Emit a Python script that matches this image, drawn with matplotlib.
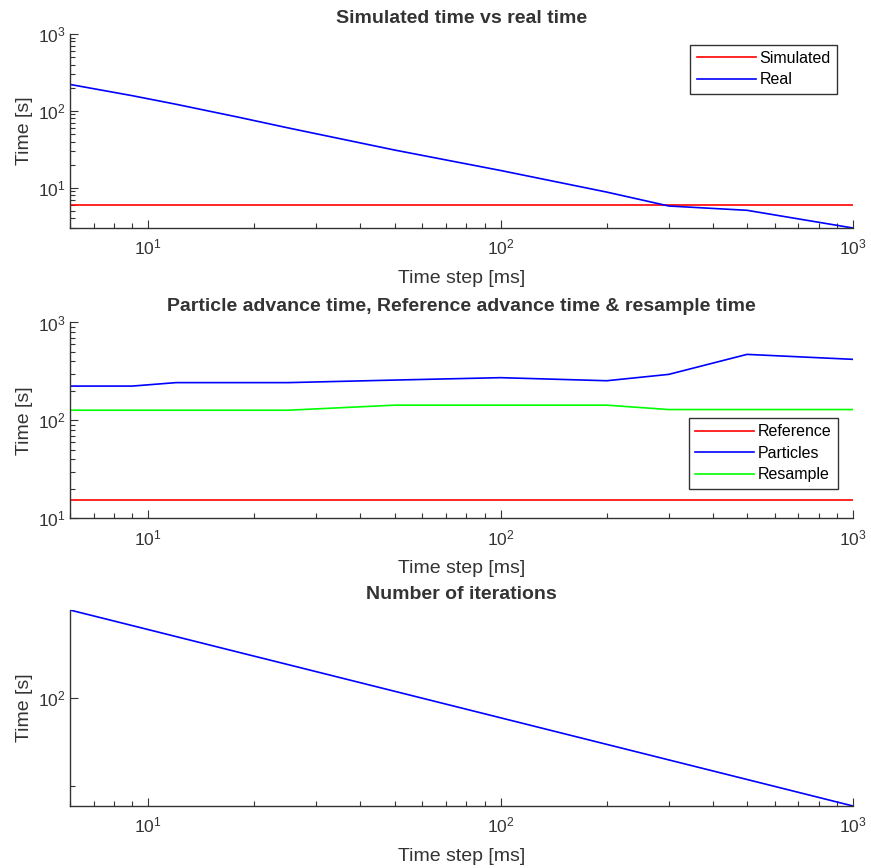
import numpy as np
import matplotlib
matplotlib.use("Agg")
import matplotlib.pyplot as plt
from matplotlib.ticker import LogLocator, NullFormatter, FixedLocator

plt.rcParams['font.family'] = ['Liberation Sans', 'DejaVu Sans']
plt.rcParams['mathtext.fontset'] = 'custom'
plt.rcParams['mathtext.rm'] = 'Liberation Sans'
plt.rcParams['mathtext.it'] = 'Liberation Sans'

# time steps [ms]
time_step = [6, 9, 12, 18, 25, 50, 100, 200, 300, 500, 1000]

# panel 1: simulated vs real time [s]
simulated = [6, 6, 6, 6, 6, 6, 6, 6, 6, 6, 6]
real = [221, 158, 122, 83, 60, 31, 16.8, 8.8, 5.8, 5.1, 3.0]

# panel 2: advance times [s]
reference = [15.4, 15.4, 15.4, 15.4, 15.4, 15.4, 15.4, 15.4, 15.4, 15.4, 15.4]
particles = [224, 224, 243, 243, 243, 258, 273, 254, 295, 472, 420]
resample = [127, 127, 127, 127, 127, 143, 143, 143, 129, 129, 129]

# panel 3: number of iterations
iterations = [1000, 667, 500, 333, 240, 120, 60, 30, 20, 12, 6]

txt = '#333333'
fs_tick = 12.5
fs_lab = 14
fig = plt.figure(figsize=(8.71, 8.68), dpi=100)

L, W = 0.0804, 0.899
ax1 = fig.add_axes([L, 0.7373, W, 0.2235])
ax2 = fig.add_axes([L, 0.4029, W, 0.2256])
ax3 = fig.add_axes([L, 0.0714, W, 0.2258])

leg_kw = dict(fontsize=11.5, fancybox=False, edgecolor=txt, framealpha=1,
              handlelength=3.7, borderpad=0.4, labelspacing=0.4,
              handletextpad=0.25, loc='upper right', borderaxespad=0)


def estilo(ax):
    ax.set_xscale('log')
    ax.set_yscale('log')
    ax.set_xlim(6, 1000)
    for s in ['top', 'right']:
        ax.spines[s].set_visible(False)
    for s in ['left', 'bottom']:
        ax.spines[s].set_color(txt)
        ax.spines[s].set_linewidth(1.0)
    ax.tick_params(which='both', direction='in', colors=txt, labelsize=fs_tick)
    ax.tick_params(which='major', length=6, width=0.8)
    ax.tick_params(which='minor', length=3.5, width=0.8)
    ax.xaxis.set_minor_locator(LogLocator(base=10, subs=np.arange(2, 10)))
    ax.xaxis.set_minor_formatter(NullFormatter())
    ax.yaxis.set_minor_formatter(NullFormatter())
    ax.tick_params(axis='x', which='major', pad=7)
    ax.tick_params(axis='y', which='major', pad=3)
    ax.set_xlabel('Time step [ms]', fontsize=fs_lab, color=txt, labelpad=9)
    ax.set_ylabel('Time [s]', fontsize=fs_lab, color=txt, labelpad=4)


# simulated vs real
estilo(ax1)
ax1.plot(time_step, simulated, color='red', lw=1.2, label='Simulated')
ax1.plot(time_step, real, color='blue', lw=1.2, label='Real')
ax1.set_ylim(3.0, 1000)
ax1.yaxis.set_minor_locator(LogLocator(base=10, subs=np.arange(2, 10)))
ax1.set_title('Simulated time vs real time', fontsize=fs_lab, fontweight='bold',
              color=txt, pad=8)
ax1.legend(bbox_to_anchor=(0.98, 0.945), **leg_kw)

# advance times
estilo(ax2)
ax2.plot(time_step, reference, color='red', lw=1.2, label='Reference')
ax2.plot(time_step, particles, color='blue', lw=1.2, label='Particles')
ax2.plot(time_step, resample, color='lime', lw=1.2, label='Resample')
ax2.set_ylim(10, 1000)
ax2.yaxis.set_minor_locator(LogLocator(base=10, subs=np.arange(2, 10)))
ax2.set_title('Particle advance time, Reference advance time & resample time',
              fontsize=fs_lab, fontweight='bold', color=txt, pad=8)
ax2.legend(bbox_to_anchor=(0.981, 0.512), **leg_kw)

# iterations
estilo(ax3)
ax3.plot(time_step, iterations, color='blue', lw=1.2)
ax3.set_ylim(6, 1000)
ax3.yaxis.set_major_locator(FixedLocator([100]))
ax3.yaxis.set_minor_locator(FixedLocator([10]))
ax3.set_title('Number of iterations', fontsize=fs_lab, fontweight='bold',
              color=txt, pad=8)

fig.savefig('out.png', dpi=100)
